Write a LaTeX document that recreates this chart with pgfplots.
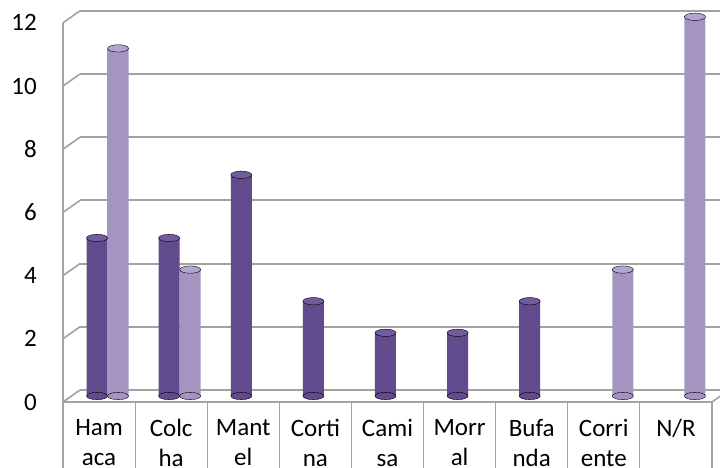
\documentclass[border=0pt]{standalone}
\usepackage{fontspec}
\setmainfont{Carlito}
\usepackage{pgfplots}
\usepackage{pgfplotstable}
\pgfplotsset{compat=1.18}

\definecolor{darkedge}{HTML}{624B8C}
\definecolor{darkmid}{HTML}{8B74B2}
\definecolor{darkcap}{HTML}{735C9E}
\definecolor{lightedge}{HTML}{A494C2}
\definecolor{lightmid}{HTML}{C6BAE0}
\definecolor{lightcap}{HTML}{B3A5D0}
\definecolor{gridgray}{HTML}{A2A2A2}

% series 1 (dark) and series 2 (light); nan = no bar
\pgfplotstableread{
x y base
0 5 0
1 5 0
2 7 0
3 3 0
4 2 0
5 2 0
6 3 0
7 nan nan
8 nan nan
}\darkdata
\pgfplotstableread{
x y base
0 11 0
1 4 0
2 nan nan
3 nan nan
4 nan nan
5 nan nan
6 nan nan
7 4 0
8 12 0
}\lightdata

\pgfplotsset{
  wall/.style={
    scale only axis,
    width=649pt, height=379.2pt,
    xmin=-0.5, xmax=8.5, ymin=0, ymax=12,
    axis line style={draw=none},
  },
}

\begin{document}
\begin{tikzpicture}
% back wall with gridlines
\begin{axis}[wall,
    at={(80pt,78pt)}, anchor=south west,
    ytick={0,2,...,12}, xtick=\empty,
    yticklabels={}, major tick length=0pt,
    ymajorgrids, grid style={gridgray, line width=2pt},
]
\end{axis}

% front: bars, left wall, floor, category cells
\begin{axis}[wall,
    at={(63pt,66pt)}, anchor=south west,
    clip=false,
    ytick={0,2,...,12}, ytick pos=left,
    major tick length=0pt,
    /pgf/number format/assume math mode=true,
    yticklabel style={font=\fontsize{25}{30}\selectfont, anchor=east, inner sep=0pt, xshift=-26pt},
    xtick={0,...,8}, xtick pos=bottom,
    xticklabels={{Ham\\aca},{Colc\\ha},{Mant\\el},{Corti\\na},{Cami\\sa},{Morr\\al},{Bufa\\nda},{Corri\\ente},{N/R}},
    xticklabel style={font=\fontsize{25}{30}\selectfont, align=center, anchor=north, inner sep=0pt, yshift=-17pt},
    extra x ticks={-0.5,0.5,...,8.5},
    extra x tick labels={},
    extra x tick style={major tick length=70pt, tick align=outside,
        tick style={gridgray, line width=1.2pt}},
]
% left wall and floor edges
\draw[gridgray, line width=1.6pt] (axis cs:-0.5,12) -- (axis cs:-0.5,0) -- (axis cs:8.5,0) -- ++(17pt,12pt);
\pgfplotsinvokeforeach{0,2,...,12}{
  \draw[gridgray, line width=1.6pt] (axis cs:-0.5,#1) -- ++(17pt,12pt);
}

% bottom caps
\addplot[only marks, mark=*, mark size=10.5pt,
    mark options={yscale=0.35, fill=darkedge, draw=none},
    xshift=-2pt, yshift=6pt] table[x=x, y=base] {\darkdata};
\addplot[only marks, mark=*, mark size=10.5pt,
    mark options={yscale=0.35, fill=lightedge, draw=none},
    xshift=19pt, yshift=6pt] table[x=x, y=base] {\lightdata};

% cylinders
\addplot[ybar, bar width=21pt, bar shift=-10.5pt, draw=none,
    left color=darkedge, middle color=darkmid, right color=darkedge,
    xshift=8.5pt, yshift=6pt] table[x=x, y=y] {\darkdata};
\addplot[ybar, bar width=21pt, bar shift=10.5pt, draw=none,
    left color=lightedge, middle color=lightmid, right color=lightedge,
    xshift=8.5pt, yshift=6pt] table[x=x, y=y] {\lightdata};

% top caps
\addplot[only marks, mark=*, mark size=10.5pt,
    mark options={yscale=0.35, fill=darkcap, draw=none},
    xshift=-2pt, yshift=6pt] table[x=x, y=y] {\darkdata};
\addplot[only marks, mark=*, mark size=10.5pt,
    mark options={yscale=0.35, fill=lightcap, draw=none},
    xshift=19pt, yshift=6pt] table[x=x, y=y] {\lightdata};
\end{axis}

\pgfresetboundingbox
\useasboundingbox (0,0) rectangle (720pt,468pt);
\end{tikzpicture}
\end{document}
